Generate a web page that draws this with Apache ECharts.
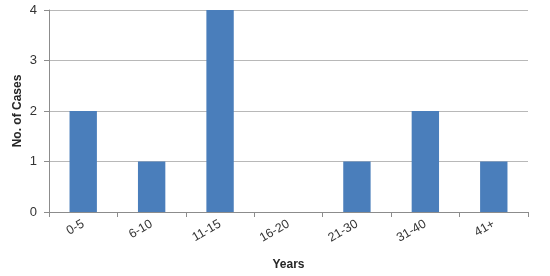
<!DOCTYPE html>
<html><head><meta charset="utf-8">
<script src="https://cdn.jsdelivr.net/npm/echarts@6/dist/echarts.min.js"></script>
<style>html,body{margin:0;padding:0;background:#fff}#c{width:550px;height:276px}</style>
</head><body><div id="c"></div>
<script>
var categories = ["0-5", "6-10", "11-15", "16-20", "21-30", "31-40", "41+"];
var cases = [2, 1, 4, 0, 1, 2, 1];
var yTicks = [0, 1, 2, 3, 4];

var chart = echarts.init(document.getElementById('c'), null, {renderer: 'canvas'});
chart.setOption({
  animation: false,
  grid: {left: 49, right: 22, top: 10, bottom: 64, containLabel: false},
  xAxis: {
    type: 'category',
    data: categories,
    name: 'Years',
    nameLocation: 'middle',
    nameGap: 47,
    nameMoveOverlap: false,
    nameTextStyle: {fontFamily: 'Liberation Sans, Arial', fontWeight: 'bold', fontSize: 12, color: '#262626'},
    axisLine: {lineStyle: {color: '#8c8c8c'}},
    axisTick: {show: true, length: 5, lineStyle: {color: '#8c8c8c'}},
    axisLabel: {rotate: 30, margin: 11, fontFamily: 'Liberation Sans, Arial', fontSize: 12.5, color: '#333333'}
  },
  yAxis: {
    type: 'value',
    min: yTicks[0], max: yTicks[yTicks.length - 1], interval: 1,
    name: 'No. of Cases',
    nameLocation: 'middle',
    nameGap: 25,
    nameMoveOverlap: false,
    nameTextStyle: {fontFamily: 'Liberation Sans, Arial', fontWeight: 'bold', fontSize: 12, color: '#262626'},
    axisLine: {show: true, lineStyle: {color: '#8c8c8c'}},
    axisTick: {show: true, length: 5, inside: false, lineStyle: {color: '#8c8c8c'}},
    axisLabel: {margin: 12, fontFamily: 'Liberation Sans, Arial', fontSize: 13, color: '#333333'},
    splitLine: {show: true, lineStyle: {color: '#b8b8b8'}}
  },
  series: [{
    type: 'bar',
    data: cases,
    barWidth: '40%',
    itemStyle: {color: '#4a7ebb'}
  }]
});
</script></body></html>
